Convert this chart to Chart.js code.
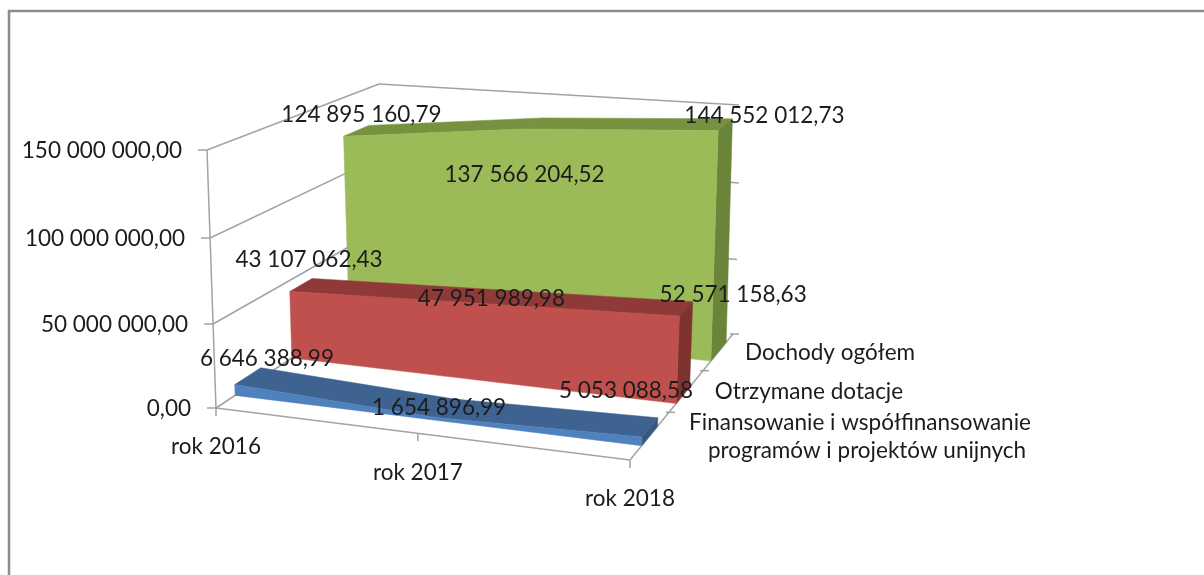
<!DOCTYPE html>
<html>
<head>
<meta charset="utf-8">
<style>
  html, body { margin: 0; padding: 0; background: #fff; overflow: hidden; }
  canvas { display: block; }
</style>
<script src="https://cdn.jsdelivr.net/npm/chart.js@4/dist/chart.umd.min.js"></script>
</head>
<body>
<canvas id="chart" width="1204" height="575"></canvas>
<script>
// Dane
const categories = ['rok 2016', 'rok 2017', 'rok 2018'];
const dochody = [124895160.79, 137566204.52, 144552012.73];
const dotacje = [43107062.43, 47951989.98, 52571158.63];
const finansowanie = [6646388.99, 1654896.99, 5053088.58];
const seriesNames = [
  ['Finansowanie i współfinansowanie', 'programów i projektów unijnych'],
  ['Otrzymane dotacje'],
  ['Dochody ogółem']
];
const axisMax = 150000000;
const axisStep = 50000000;

// Rzut 3D: narożniki podłogi i sufitu (przód-lewy, przód-prawy, tył-prawy, tył-lewy)
const floorCorners = [[216, 408], [630, 460], [733, 334], [386, 296]];
const ceilCorners = [[207, 150], [641, 184], [739, 105], [379, 84]];
// Zakres głębokości każdej serii (0 = przód, 1 = tył)
const seriesDepth = [[0.095, 0.23], [0.40, 0.53], [0.75, 0.92]];
const seriesColors = [
  { front: '#4f81bd', top: '#3e6390', side: '#36587f' },
  { front: '#c0504d', top: '#8f3a38', side: '#7f3331' },
  { front: '#9bbb59', top: '#76923f', side: '#6a8439' }
];
// Przesunięcia etykiet danych względem szczytu serii
const labelOffsets = [
  [[19, -17], [-5, 0], [-24, -36]],
  [[8, -25], [4, 2], [47, -14]],
  [[5, -16], [-8, 51], [39, -9]]
];
// Środki kolejnych linii opisów osi głębokości
const depthLabelPos = [[[860, 423], [867, 451]], [[809, 392]], [[830, 353]]];
const FONT = '22.5px Lato, Carlito, sans-serif';
const GRID = '#a3a3a3';

function quadMap(p) {
  const dx1 = p[1][0] - p[2][0], dx2 = p[3][0] - p[2][0], sx = p[0][0] - p[1][0] + p[2][0] - p[3][0];
  const dy1 = p[1][1] - p[2][1], dy2 = p[3][1] - p[2][1], sy = p[0][1] - p[1][1] + p[2][1] - p[3][1];
  const den = dx1 * dy2 - dx2 * dy1;
  const g = (sx * dy2 - dx2 * sy) / den, h = (dx1 * sy - sx * dy1) / den;
  const a = p[1][0] - p[0][0] + g * p[1][0], b = p[3][0] - p[0][0] + h * p[3][0];
  const d = p[1][1] - p[0][1] + g * p[1][1], e = p[3][1] - p[0][1] + h * p[3][1];
  return (u, v) => {
    const q = g * u + h * v + 1;
    return [(a * u + b * v + p[0][0]) / q, (d * u + e * v + p[0][1]) / q];
  };
}
const floorMap = quadMap(floorCorners);
const ceilMap = quadMap(ceilCorners);

// u - pozycja kategorii, v - głębokość, w - wysokość (wszystko 0..1)
function project(u, v, w) {
  const f = floorMap(u, v), c = ceilMap(u, v);
  const k = w * (1 - 0.035 * (1 - w)); // lekka perspektywa w pionie
  return [f[0] + (c[0] - f[0]) * k, f[1] + (c[1] - f[1]) * k];
}

function formatValue(val) {
  const parts = val.toFixed(2).split('.');
  return parts[0].replace(/\B(?=(\d{3})+(?!\d))/g, ' ') + ',' + parts[1];
}

function poly(ctx, pts, color) {
  ctx.beginPath();
  pts.forEach((p, i) => i ? ctx.lineTo(p[0], p[1]) : ctx.moveTo(p[0], p[1]));
  ctx.closePath();
  ctx.fillStyle = color;
  ctx.fill();
  ctx.strokeStyle = color;
  ctx.lineWidth = 0.5;
  ctx.stroke();
}

function line(ctx, a, b) {
  ctx.beginPath();
  ctx.moveTo(a[0], a[1]);
  ctx.lineTo(b[0], b[1]);
  ctx.stroke();
}

const area3d = {
  id: 'area3d',
  afterDatasetsDraw(chart) {
    const ctx = chart.ctx, area = chart.chartArea, yScale = chart.scales.y;
    const toU = x => (x - area.left) / (area.right - area.left);
    const toW = y => (area.bottom - y) / (area.bottom - area.top);
    ctx.save();

    // ramka
    ctx.strokeStyle = '#8c8c8c';
    ctx.lineWidth = 2.5;
    ctx.beginPath();
    ctx.moveTo(9, 575);
    ctx.lineTo(9, 11);
    ctx.lineTo(1204, 11);
    ctx.stroke();

    // siatka ścian
    ctx.strokeStyle = GRID;
    ctx.lineWidth = 1.5;
    yScale.ticks.forEach(t => {
      const w = toW(yScale.getPixelForValue(t.value));
      line(ctx, project(0, 0, w), project(0, 1, w));
      if (w > 0) {
        const e = project(1, 1, w);
        line(ctx, project(0, 1, w), w < 1 ? [e[0] + 2, e[1]] : e);
      }
    });
    // osie
    line(ctx, project(0, 0, 0), project(0, 0, 1));
    line(ctx, project(0, 0, 0), project(1, 0, 0));
    line(ctx, project(1, 0, 0), project(1, 1, 0));
    [0, 0.5, 1].forEach(u => {
      const p = project(u, 0, 0);
      line(ctx, p, [p[0], p[1] + 8]);
    });
    [1 / 3, 2 / 3, 1].forEach(v => {
      const p = project(1, v, 0);
      line(ctx, [p[0] - 3, p[1]], [p[0] + 6, p[1]]);
    });
    yScale.ticks.forEach(t => {
      const p = project(0, 0, toW(yScale.getPixelForValue(t.value)));
      line(ctx, [p[0] - 9, p[1]], p);
    });

    // serie od tyłu do przodu
    for (let s = chart.data.datasets.length - 1; s >= 0; s--) {
      const pts = chart.getDatasetMeta(s).data;
      const [v0, v1] = seriesDepth[s];
      const col = seriesColors[s];
      const cells = pts.map(pt => [toU(pt.x), toW(pt.y)]);
      // wierzch
      for (let i = 0; i < cells.length - 1; i++) {
        const a = cells[i], b = cells[i + 1];
        poly(ctx, [project(a[0], v0, a[1]), project(b[0], v0, b[1]), project(b[0], v1, b[1]), project(a[0], v1, a[1])], col.top);
      }
      // bok
      const last = cells[cells.length - 1];
      poly(ctx, [project(last[0], v0, 0), project(last[0], v1, 0), project(last[0], v1, last[1]), project(last[0], v0, last[1])], col.side);
      // przód
      const front = cells.map(c => project(c[0], v0, c[1]));
      front.push(project(last[0], v0, 0), project(cells[0][0], v0, 0));
      poly(ctx, front, col.front);
    }

    // teksty
    ctx.font = FONT;
    ctx.fillStyle = '#1c1c1c';
    ctx.textBaseline = 'middle';
    ctx.textAlign = 'right';
    yScale.ticks.forEach(t => {
      const p = project(0, 0, toW(yScale.getPixelForValue(t.value)));
      ctx.fillText(formatValue(t.value), p[0] - 25, p[1] + 1);
    });
    ctx.textAlign = 'center';
    categories.forEach((name, i) => {
      const p = project(i / (categories.length - 1), 0, 0);
      ctx.fillText(name, p[0], p[1] + 39);
    });
    seriesNames.forEach((lines, s) => {
      lines.forEach((txt, i) => ctx.fillText(txt, depthLabelPos[s][i][0], depthLabelPos[s][i][1]));
    });
    chart.data.datasets.forEach((ds, s) => {
      const pts = chart.getDatasetMeta(s).data;
      const vm = (seriesDepth[s][0] + seriesDepth[s][1]) / 2;
      pts.forEach((pt, i) => {
        const p = project(toU(pt.x), vm, toW(pt.y));
        ctx.fillText(formatValue(ds.data[i]), p[0] + labelOffsets[s][i][0], p[1] + labelOffsets[s][i][1]);
      });
    });
    ctx.restore();
  }
};

new Chart(document.getElementById('chart'), {
  type: 'line',
  data: {
    labels: categories,
    datasets: [
      { label: seriesNames[0].join(' '), data: finansowanie },
      { label: seriesNames[1].join(' '), data: dotacje },
      { label: seriesNames[2].join(' '), data: dochody }
    ]
  },
  options: {
    responsive: false,
    animation: false,
    showLine: false,
    pointRadius: 0,
    elements: { point: { radius: 0, hoverRadius: 0 }, line: { borderWidth: 0 } },
    layout: { padding: { left: 216, right: 574, top: 150, bottom: 167 } },
    plugins: { legend: { display: false }, tooltip: { enabled: false } },
    scales: {
      x: { display: false, offset: false },
      y: { display: false, min: 0, max: axisMax, ticks: { stepSize: axisStep } }
    }
  },
  plugins: [area3d]
});
</script>
</body>
</html>
